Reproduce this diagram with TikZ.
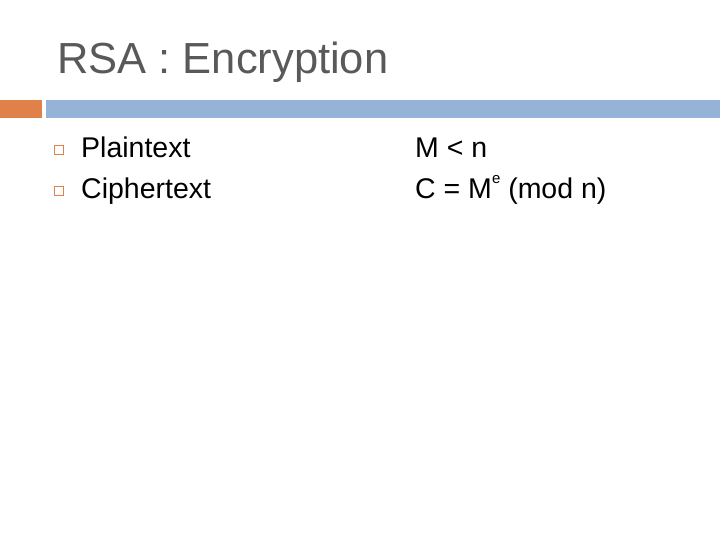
\documentclass[tikz,border=0pt]{standalone}
\usepackage{fontspec}
\setmainfont{Liberation Sans}
\definecolor{titlegray}{HTML}{595959}
\definecolor{barorange}{HTML}{E0814A}
\definecolor{barblue}{HTML}{95B3D7}
\begin{document}
\begin{tikzpicture}[x=1pt,y=-1pt,
  body/.style={anchor=base west,inner sep=0pt,font=\fontsize{28.5}{32}\selectfont},
  bul/.style={draw=barorange,line width=1.2pt,minimum size=9pt,inner sep=0pt}]
\useasboundingbox (0,0) rectangle (720,540);
\node[anchor=base west,inner sep=0pt,text=titlegray,font=\fontsize{43.5}{48}\selectfont] (title) at (57,74) {RSA : Encryption};
\fill[barorange] (0,100) rectangle (42,118);
\fill[barblue] (46,100) rectangle (720,118);
\node[bul] (b1) at (59,150) {};
\node[bul] (b2) at (59,191) {};
\node[body] (p) at (81,158) {Plaintext};
\node[body] (c) at (81,199) {Ciphertext};
\node[body] (m) at (415,158) {M < n};
\node[body] (e) at (415,199) {C = M\raisebox{0.55em}{\fontsize{15}{17}\selectfont e} (mod n)};
\end{tikzpicture}
\end{document}
